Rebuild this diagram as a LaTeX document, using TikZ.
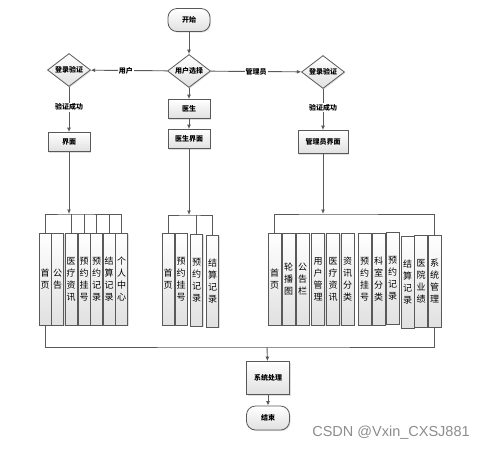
\documentclass[tikz,border=0pt]{standalone}
\usepackage{fontspec}
\newfontfamily\cjk{Noto Sans CJK SC}
\newfontfamily\wmfont{Liberation Sans}
\usepackage{tikz}
\usetikzlibrary{positioning}
\usetikzlibrary{shapes.geometric}
\usetikzlibrary{arrows.meta}
\usetikzlibrary{shadows}

\tikzset{
  line/.style={draw=black!65, line width=0.9pt},
  arr/.style={line, -{Latex[length=4.5pt,width=4pt]}},
  shade box/.style={draw=black!65, line width=0.8pt, top color=white, bottom color=black!12,
                    drop shadow={shadow xshift=1pt, shadow yshift=-1pt, fill=black!25}},
  terminal/.style={shade box, rounded corners=9pt, minimum width=42pt, minimum height=23pt,
                   font=\cjk\fontsize{7}{8}\selectfont\bfseries},
  decision/.style={shade box, diamond, aspect=1.3, inner sep=0pt, minimum width=43pt,
                   minimum height=33pt, font=\cjk\fontsize{7}{8}\selectfont\bfseries},
  process/.style={shade box, minimum width=42pt, minimum height=19pt,
                  font=\cjk\fontsize{7}{8}\selectfont\bfseries},
  lbl/.style={fill=white, inner sep=1pt, font=\cjk\fontsize{7}{8}\selectfont\bfseries},
  vcell/.style={shade box, anchor=north, minimum width=12pt, minimum height=92pt,
                inner sep=0pt, align=center, font=\cjk\fontsize{9}{12}\selectfont}
}

\begin{document}
\begin{tikzpicture}[x=1pt, y=-1pt]
% Set the size of the figure
\useasboundingbox (0,0) rectangle (495,451);

% top part
\node[terminal] (start) at (189,20) {开始};
\node[decision] (choice) at (189,71) {用户选择};
\node[decision] (loginU) at (69,70) {登录验证};
\node[decision] (loginA) at (323,72) {登录验证};
\node[process] (doctor) at (189,109) {医生};
\node[process] (uiU) at (69,142) {界面};
\node[process] (uiD) at (189,139) {医生界面};
\node[process, minimum width=50pt, minimum height=23pt] (uiA) at (323,142) {管理员界面};

\draw[arr] (start) -- (choice);
\draw[arr] (choice) -- node[lbl, pos=0.54] {用户} (loginU);
\draw[arr] (choice) -- node[lbl, pos=0.5] {管理员} (loginA);
\draw[arr] (choice) -- (doctor);
\draw[arr] (doctor) -- (uiD);
\draw[arr] (loginU) -- node[lbl, pos=0.45] {验证成功} (uiU);
\draw[arr] (loginA) -- node[lbl, pos=0.45] {验证成功} (uiA);

% user pages
\node[vcell] (L1) at (45,233) {首\\页};
\node[vcell] (L2) at (57.5,233) {公\\告};
\node[vcell] (L3) at (71,233) {医\\疗\\资\\讯};
\node[vcell] (L4) at (84,233) {预\\约\\挂\\号};
\node[vcell] (L5) at (96.5,233) {预\\约\\记\\录};
\node[vcell] (L6) at (109,233) {结\\算\\记\\录};
\node[vcell] (L7) at (121.5,233) {个\\人\\中\\心};

\coordinate (busU) at (69,214);
\draw[arr] (uiU) -- (busU);
\draw[line] (L1.north) |- (busU) -| (L7.north);
\foreach \k in {3,...,6}
  \draw[line] (L\k.north) -- (L\k.north |- busU);

% doctor pages
\node[vcell] (D1) at (168,233) {首\\页};
\node[vcell] (D2) at (181,233) {预\\约\\挂\\号};
\node[vcell] (D3) at (196.5,234) {预\\约\\记\\录};
\node[vcell] (D4) at (212.5,235) {结\\算\\记\\录};

\coordinate (busD) at (189,215);
\draw[arr] (uiD) -- (busD);
\draw[line] (D1.north) |- (busD) -| (D4.north);
\draw[line] (D3.north) -- (D3.north |- busD);

% admin pages
\node[vcell, minimum width=13pt] (R1) at (274.5,233) {首\\页};
\node[vcell, minimum width=13pt] (R2) at (288.5,233) {轮\\播\\图};
\node[vcell, minimum width=13pt] (R3) at (302.5,233) {公\\告\\栏};
\node[vcell, minimum width=13pt] (R4) at (318,233) {用\\户\\管\\理};
\node[vcell, minimum width=13pt] (R5) at (333,233) {医\\疗\\资\\讯};
\node[vcell, minimum width=13pt] (R6) at (347.5,233) {资\\讯\\分\\类};
\node[vcell, minimum width=13pt] (R7) at (364.5,233) {预\\约\\挂\\号};
\node[vcell, minimum width=13pt] (R8) at (378.5,233) {科\\室\\分\\类};
\node[vcell, minimum width=13pt] (R9) at (392.5,232) {预\\约\\记\\录};
\node[vcell, minimum width=13pt] (R10) at (407.5,236) {结\\算\\记\\录};
\node[vcell, minimum width=13pt] (R11) at (421,235) {医\\院\\业\\绩};
\node[vcell, minimum width=13pt] (R12) at (434.5,235) {系\\统\\管\\理};

\coordinate (busA) at (323,214);
\draw[arr] (uiA) -- (busA);
\draw[line] (R1.north) |- (busA) -| (R12.north);

% bottom part
\node[process, minimum width=43pt, minimum height=33pt] (sys) at (268,378) {系统处理};
\node[terminal, minimum width=43pt, minimum height=24pt] (end) at (268,418) {结束};

\coordinate (busB) at (267,347);
\draw[line] (L1.south) |- (busB) -| (R12.south);
\draw[arr] (busB) -- (sys);
\draw[arr] (sys) -- (end);

\node[text=black!45, font=\wmfont\fontsize{14.5}{16}\selectfont] (mark) at (391,433) {CSDN @Vxin\_CXSJ881};
\end{tikzpicture}
\end{document}
